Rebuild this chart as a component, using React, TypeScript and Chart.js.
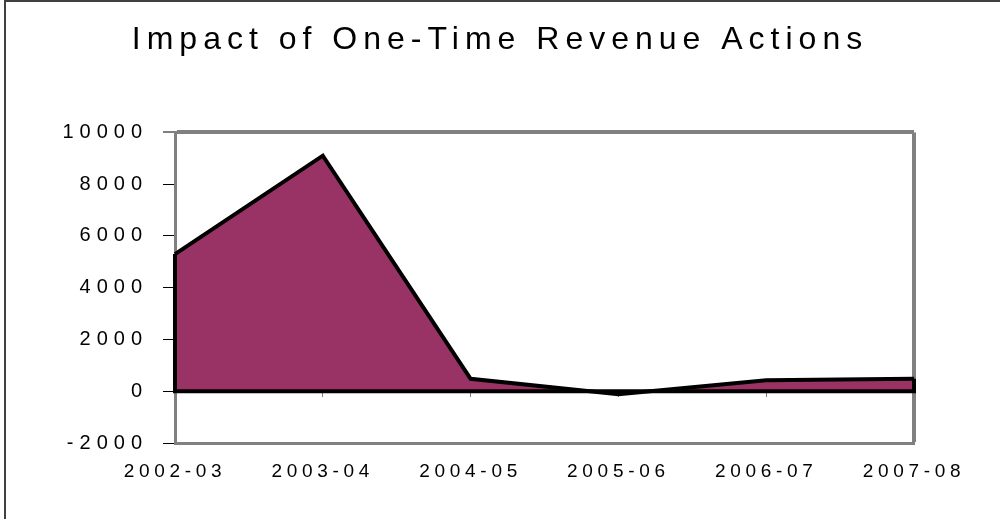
import React, { useEffect, useRef } from "react";
import { Chart, registerables, CategoryScale } from "chart.js";

Chart.register(...registerables);

const categories: string[] = ["2002-03", "2003-04", "2004-05", "2005-06", "2006-07", "2007-08"];
const revenueValues: number[] = [5300, 9100, 480, -120, 420, 480];
const yTickValues: number[] = [-2000, 0, 2000, 4000, 6000, 8000, 10000];
const chartTitle = "Impact of One-Time Revenue Actions";

const FONT = "'Liberation Sans', Arial, sans-serif";
const GRAY = "#808080";

class SpacedCategoryScale extends CategoryScale {
  static id = "spacedCategory";
  drawLabels(chartArea: any) {
    const ctx: any = (this as any).ctx;
    const prev = ctx.letterSpacing;
    ctx.letterSpacing = "4.7px";
    // @ts-ignore
    super.drawLabels(chartArea);
    ctx.letterSpacing = prev;
  }
}
Chart.register(SpacedCategoryScale as any);

const spacingPlugin = {
  id: "letterSpacing",
  beforeUpdate(chart: any) {
    chart.ctx.letterSpacing = "6px";
  },
  beforeDraw(chart: any) {
    chart.ctx.letterSpacing = "6px";
  },
};

const outlinePlugin = {
  id: "areaOutline",
  afterDatasetsDraw(chart: any) {
    const meta = chart.getDatasetMeta(0);
    const pts = meta.data;
    if (!pts || !pts.length) return;
    const y0 = chart.scales.y.getPixelForValue(0);
    const first = pts[0];
    const last = pts[pts.length - 1];
    const ctx = chart.ctx;
    ctx.save();
    ctx.strokeStyle = "#000";
    ctx.lineWidth = 4;
    ctx.lineJoin = "miter";
    ctx.beginPath();
    ctx.moveTo(first.x, first.y);
    ctx.lineTo(first.x, y0);
    ctx.lineTo(last.x, y0);
    ctx.lineTo(last.x, last.y);
    ctx.stroke();
    ctx.restore();
  },
};

export default function App() {
  const canvasRef = useRef<HTMLCanvasElement | null>(null);

  useEffect(() => {
    if (!canvasRef.current) return;
    const chart = new Chart(canvasRef.current, {
      type: "line",
      data: {
        labels: categories,
        datasets: [
          {
            label: "One-Time Revenue",
            data: revenueValues,
            borderColor: "#000000",
            borderWidth: 4,
            backgroundColor: "#993366",
            fill: "origin",
            tension: 0,
            pointRadius: 0,
            borderJoinStyle: "miter",
            xAxisID: "x",
            yAxisID: "y",
          },
        ],
      },
      options: {
        animation: false,
        responsive: false,
        devicePixelRatio: 1,
        layout: { padding: { left: 0, right: 0, top: 0, bottom: 0 } },
        plugins: {
          legend: { display: false },
          tooltip: { enabled: false },
          title: {
            display: true,
            text: chartTitle,
            color: "#000",
            font: { family: FONT, size: 32, weight: "normal" },
            padding: { top: 21, bottom: 73 },
          },
        },
        scales: {
          x: {
            type: "spacedCategory" as any,
            position: "bottom",
            offset: false,
            afterFit: (s: any) => {
              s.height = 76;
              s.paddingRight = 86;
            },
            grid: {
              display: true,
              drawTicks: false,
              color: (ctx: any) => (ctx.index === categories.length - 1 ? GRAY : "transparent"),
              lineWidth: (ctx: any) => (ctx.index === categories.length - 1 ? 4 : 1),
            },
            border: { display: true, color: GRAY, width: 3 },
            ticks: {
              color: "#000",
              font: { family: FONT, size: 19 },
              padding: 17,
              maxRotation: 0,
              autoSkip: false,
            },
          },
          x2: {
            type: "category",
            axis: "x",
            position: { y: 0 } as any,
            offset: false,
            grid: {
              display: true,
              drawOnChartArea: false,
              drawTicks: true,
              tickLength: 5,
              tickColor: GRAY,
              color: GRAY,
            },
            border: { display: true, color: GRAY, width: 2 },
            ticks: { display: false },
          },
          y: {
            type: "linear",
            position: "left",
            min: -2000,
            max: 10000,
            afterFit: (s: any) => {
              s.width = 175;
            },
            afterBuildTicks: (s: any) => {
              s.ticks = yTickValues.map((v) => ({ value: v }));
            },
            grid: {
              display: true,
              drawTicks: true,
              tickLength: 12,
              tickColor: "#000",
              tickWidth: 1,
              color: (ctx: any) => (ctx.tick && ctx.tick.value === 10000 ? GRAY : "transparent"),
              lineWidth: (ctx: any) => (ctx.tick && ctx.tick.value === 10000 ? 4 : 1),
            },
            border: { display: true, color: GRAY, width: 3 },
            ticks: {
              color: "#000",
              font: { family: FONT, size: 20 },
              padding: 15,
              callback: (v: any) => String(v),
            },
          },
        },
      },
      plugins: [spacingPlugin, outlinePlugin],
    } as any);
    return () => chart.destroy();
  }, []);

  return (
    <div style={{ position: "absolute", left: 0, top: 0, width: 1000, height: 519, background: "#fff" }}>
      <canvas ref={canvasRef} width={1000} height={519} style={{ display: "block" }} />
      <div style={{ position: "absolute", left: 4, top: 0, width: 996, height: 2, background: "#404040" }} />
      <div style={{ position: "absolute", left: 4, top: 0, width: 2, height: 519, background: "#404040" }} />
    </div>
  );
}
